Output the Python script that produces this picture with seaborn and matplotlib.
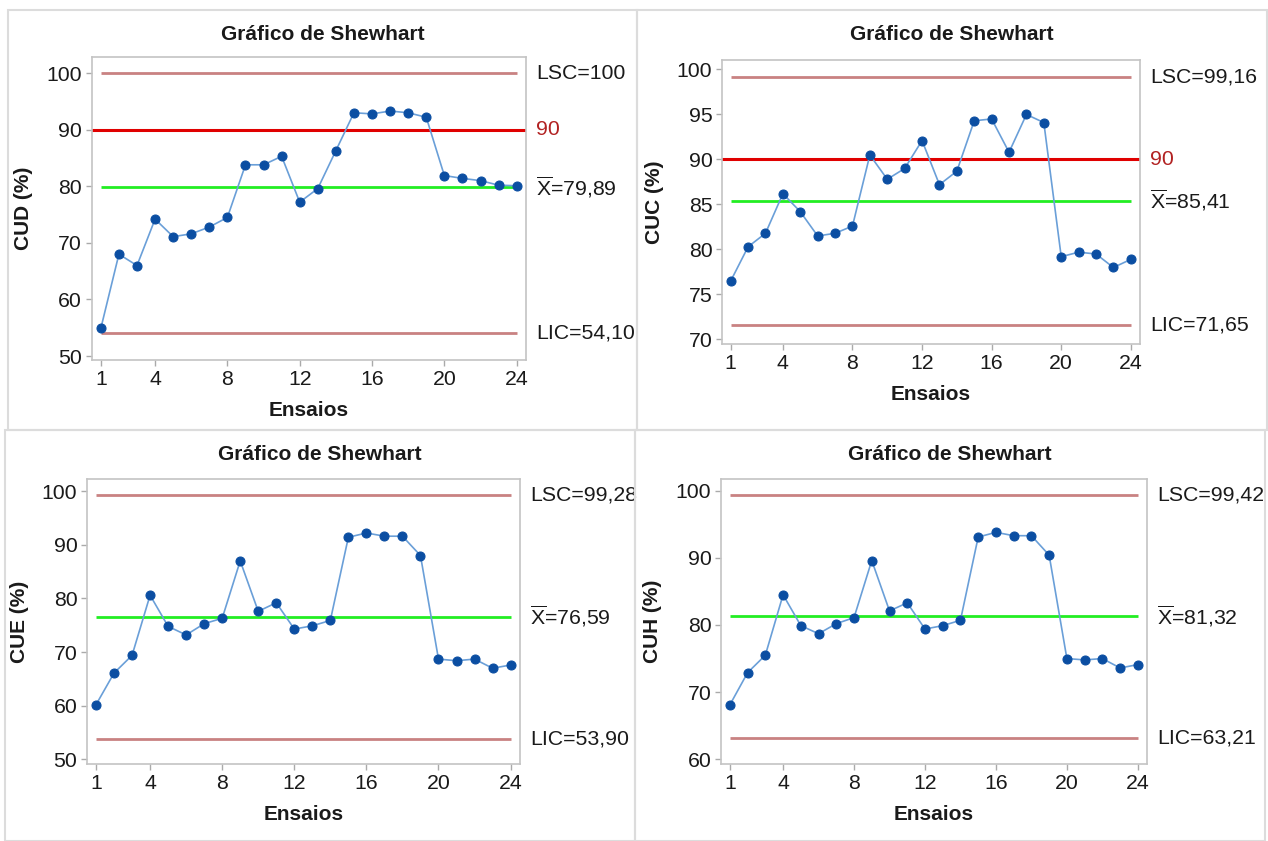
import matplotlib
matplotlib.use("Agg")
import matplotlib.pyplot as plt
import seaborn as sns
import pandas as pd
from matplotlib.patches import Rectangle

ensaios = list(range(1, 25))
x_ticks = [1, 4, 8, 12, 16, 20, 24]

cud = [54.9, 68.0, 66.0, 74.2, 71.1, 71.6, 72.8, 74.5, 83.8, 83.8, 85.3, 77.2,
       79.6, 86.3, 93.0, 92.8, 93.3, 93.0, 92.2, 81.9, 81.4, 81.0, 80.2, 80.1]
cuc = [76.5, 80.3, 81.8, 86.2, 84.2, 81.5, 81.8, 82.6, 90.5, 87.8, 89.0, 92.1,
       87.2, 88.7, 94.3, 94.5, 90.8, 95.0, 94.1, 79.2, 79.7, 79.5, 78.0, 78.9]
cue = [60.2, 66.1, 69.4, 80.6, 74.8, 73.2, 75.3, 76.3, 87.0, 77.6, 79.2, 74.3,
       74.9, 75.9, 91.4, 92.2, 91.6, 91.6, 88.0, 68.7, 68.4, 68.7, 67.0, 67.6]
cuh = [68.1, 72.9, 75.5, 84.5, 79.9, 78.7, 80.2, 81.1, 89.6, 82.1, 83.3, 79.4,
       79.9, 80.7, 93.1, 93.8, 93.3, 93.3, 90.4, 75.0, 74.8, 75.0, 73.6, 74.1]

labels = ["CUD (%)", "CUC (%)", "CUE (%)", "CUH (%)"]
series = [cud, cuc, cue, cuh]
lsc = [100.0, 99.16, 99.28, 99.42]
lic = [54.10, 71.65, 53.90, 63.21]
media = [79.89, 85.41, 76.59, 81.32]
lsc_txt = ["LSC=100", "LSC=99,16", "LSC=99,28", "LSC=99,42"]
lic_txt = ["LIC=54,10", "LIC=71,65", "LIC=53,90", "LIC=63,21"]
media_txt = ["79,89", "85,41", "76,59", "81,32"]
meta = [90, 90, None, None]
ylims = [(49.3, 102.8), (69.5, 101.05), (49.1, 102.2), (59.25, 101.7)]
yticks = [range(50, 101, 10), range(70, 101, 5), range(50, 101, 10), range(60, 101, 10)]

sns.set_theme(style="white")
plt.rcParams["font.family"] = ["Liberation Sans", "DejaVu Sans"]
plt.rcParams["mathtext.fontset"] = "custom"
plt.rcParams["mathtext.rm"] = "Liberation Sans"

W, H = 1268, 841
fig = plt.figure(figsize=(W / 100, H / 100), dpi=100)

# panel frames and axes boxes in pixels (left, top, right, bottom)
frames = [(8, 10, 637, 430), (637, 10, 1267, 430), (5, 430, 635, 841), (635, 430, 1265, 841)]
boxes = [(91.8, 57.3, 525.7, 360), (722, 60, 1139.5, 344),
         (87, 479.3, 519.6, 764.3), (721, 479.3, 1146.7, 764.3)]
title_y = [34.5, 34.5, 455, 455]
xlab_y = [410, 394, 815, 815]
ylab_x = [23.5, 654, 19.4, 653]

for l, t, r, b in frames:
    fig.patches.append(Rectangle((l / W, 1 - b / H), (r - l) / W, (b - t) / H,
                                 transform=fig.transFigure, fill=False,
                                 edgecolor="#DCDCDC", linewidth=1.5))

for i in range(4):
    l, t, r, b = boxes[i]
    ax = fig.add_axes([l / W, 1 - b / H, (r - l) / W, (b - t) / H])
    df = pd.DataFrame({"Ensaio": ensaios, "valor": series[i]})

    ax.hlines([lsc[i], lic[i]], 1, 24, color="#C98282", linewidth=2)
    ax.hlines(media[i], 1, 24, color="#22EE22", linewidth=2)
    if meta[i] is not None:
        ax.axhline(meta[i], color="#E00000", linewidth=2.2)

    sns.lineplot(data=df, x="Ensaio", y="valor", ax=ax, color="#6A9FD8",
                 linewidth=1.2, marker="o", markersize=6.5,
                 markerfacecolor="#0B4EA2", markeredgecolor="#0B4EA2")

    ax.set_xlim(0.5, 24.5)
    ax.set_ylim(*ylims[i])
    ax.set_xticks(x_ticks)
    ax.set_yticks(list(yticks[i]))
    ax.tick_params(axis="both", labelsize=15.3, colors="#1A1A1A", length=4,
                   width=1, direction="out", left=True, bottom=True, pad=3)
    ax.tick_params(axis="both", color="#AAAAAA")
    for sp in ax.spines.values():
        sp.set_color("#C4C4C4")
        sp.set_linewidth(1.2)

    ax.set_xlabel("")
    ax.set_ylabel("")
    cx = (frames[i][0] + frames[i][2]) / 2
    fig.text(cx / W, 1 - title_y[i] / H, "Gráfico de Shewhart", ha="center",
             va="center", fontsize=15, fontweight="bold", color="#1A1A1A")
    fig.text((l + r) / 2 / W, 1 - xlab_y[i] / H, "Ensaios", ha="center",
             va="center", fontsize=15, fontweight="bold", color="#1A1A1A")
    fig.text(ylab_x[i] / W, 1 - (t + b) / 2 / H, labels[i], ha="center",
             va="center", rotation=90, fontsize=15, fontweight="bold",
             color="#1A1A1A")

    kw = dict(xycoords=("axes fraction", "data"), textcoords="offset points",
              xytext=(7.5, 0), ha="left", va="center", fontsize=15.3)
    ax.annotate(lsc_txt[i], xy=(1, lsc[i]), color="#1A1A1A", **kw)
    ax.annotate(lic_txt[i], xy=(1, lic[i]), color="#1A1A1A", **kw)
    ax.annotate(r"$\overline{\mathrm{X}}$=" + media_txt[i], xy=(1, media[i]),
                color="#1A1A1A", **kw)
    if meta[i] is not None:
        ax.annotate(str(meta[i]), xy=(1, meta[i]), color="#B22222", **kw)

fig.savefig("out.png", dpi=100, facecolor="white")
